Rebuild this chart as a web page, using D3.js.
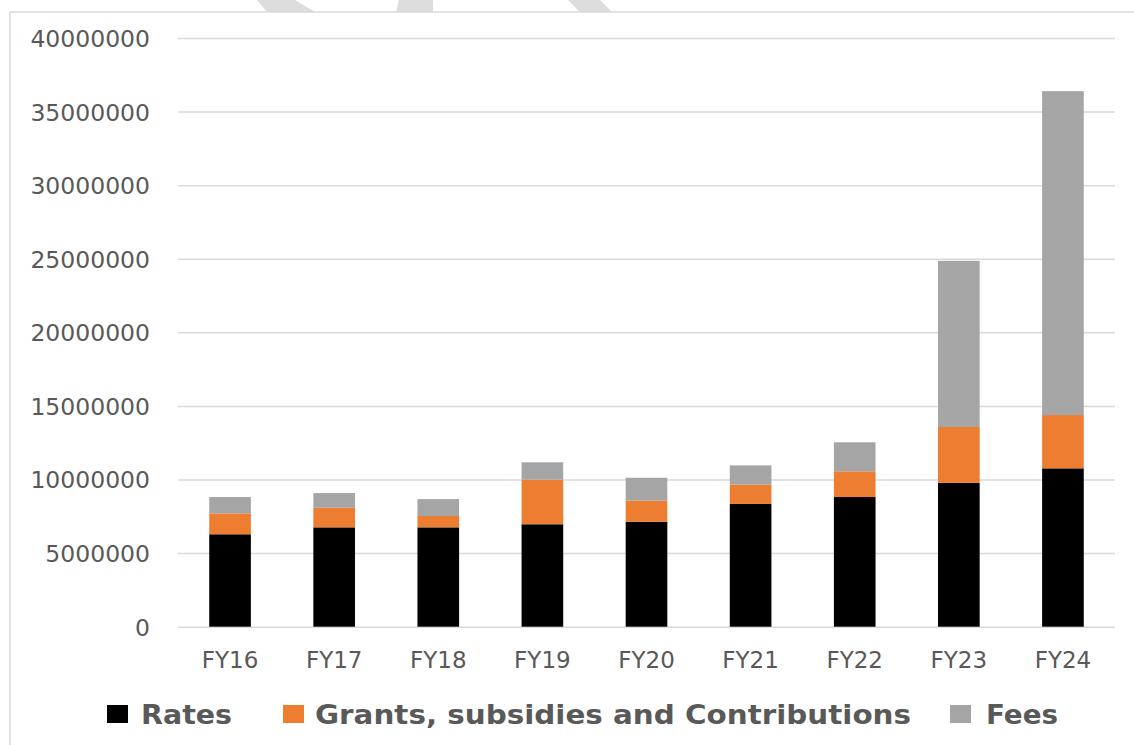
<!DOCTYPE html>
<html>
<head>
<meta charset="utf-8">
<script src="https://cdn.jsdelivr.net/npm/d3@7"></script>
<style>
  html, body { margin: 0; padding: 0; background: #ffffff; }
  svg { display: block; }
</style>
</head>
<body>
<svg id="chart" width="1134" height="745"></svg>
<script>
const categories = ["FY16", "FY17", "FY18", "FY19", "FY20", "FY21", "FY22", "FY23", "FY24"];
const rates = [6280000, 6750000, 6750000, 6960000, 7130000, 8340000, 8810000, 9780000, 10760000];
const grants = [1420000, 1330000, 770000, 3030000, 1430000, 1310000, 1750000, 3790000, 3620000];
const fees = [1110000, 1000000, 1150000, 1180000, 1560000, 1310000, 1970000, 11290000, 22010000];
const seriesNames = ["Rates", "Grants, subsidies and Contributions", "Fees"];
const seriesColors = ["#000000", "#ED7D31", "#A5A5A5"];
const yTicks = [0, 5000000, 10000000, 15000000, 20000000, 25000000, 30000000, 35000000, 40000000];

const svg = d3.select("#chart");
const textColor = "#595959";
const gridColor = "#D9D9D9";

// watermark fragments above the chart frame
const wm = [
  [[257,0],[295,0],[315,12],[267,12]],
  [[399,0],[433,0],[433,12],[396,12]],
  [[568,0],[600,0],[612,12],[580,12]]
];
svg.selectAll("polygon.wm").data(wm).join("polygon")
  .attr("class", "wm")
  .attr("points", d => d.map(p => p.join(",")).join(" "))
  .attr("fill", "#DCDCDC");

// chart frame
svg.append("line").attr("x1", 10).attr("x2", 1134).attr("y1", 12).attr("y2", 12)
  .attr("stroke", gridColor).attr("stroke-width", 1.5);
svg.append("line").attr("x1", 10).attr("x2", 10).attr("y1", 12).attr("y2", 745)
  .attr("stroke", gridColor).attr("stroke-width", 1.5);

const x = d3.scaleBand().domain(categories).range([178, 1115]).paddingInner(0.6).paddingOuter(0.3);
const y = d3.scaleLinear().domain([0, 40000000]).range([626.7, 38]);

// gridlines
const grid = svg.append("g").attr("class", "grid")
  .call(d3.axisLeft(y).tickValues(yTicks).tickSize(-(1115 - 178)).tickFormat(""))
  .attr("transform", "translate(178,0)");
grid.select(".domain").remove();
grid.selectAll("line").attr("stroke", gridColor).attr("stroke-width", 1.5);

// y labels
const yAxis = svg.append("g").attr("transform", "translate(150,0)")
  .call(d3.axisLeft(y).tickValues(yTicks).tickSize(0).tickPadding(0).tickFormat(d3.format("d")));
yAxis.select(".domain").remove();
yAxis.selectAll("text")
  .attr("font-family", "DejaVu Sans")
  .attr("font-size", "23.5px")
  .attr("fill", textColor)
  .attr("text-anchor", "end")
  .attr("dy", "0.36em");

// stacked data
const rows = categories.map((c, i) => ({ cat: c, s0: rates[i], s1: grants[i], s2: fees[i] }));
const stack = d3.stack().keys(["s0", "s1", "s2"]);
const stacked = stack(rows);

svg.append("g").selectAll("g").data(stacked).join("g")
  .attr("fill", (d, i) => seriesColors[i])
  .selectAll("rect").data(d => d).join("rect")
  .attr("x", d => x(d.data.cat))
  .attr("width", x.bandwidth())
  .attr("y", d => y(d[1]))
  .attr("height", d => y(d[0]) - y(d[1]));

// x labels
const xAxis = svg.append("g").attr("transform", "translate(0,626.7)")
  .call(d3.axisBottom(x).tickSize(0).tickPadding(0));
xAxis.select(".domain").remove();
xAxis.selectAll("text")
  .attr("font-family", "DejaVu Sans")
  .attr("font-size", "23px")
  .attr("fill", textColor)
  .attr("dy", "0")
  .attr("y", 41.6);

// legend
const legendItems = [
  { sx: 107, tx: 141, tw: 91 },
  { sx: 283, tx: 315, tw: 596 },
  { sx: 950, tx: 986, tw: 72 }
];
const lg = svg.append("g").attr("class", "legend");
lg.selectAll("rect").data(seriesNames).join("rect")
  .attr("x", (d, i) => legendItems[i].sx)
  .attr("y", 705)
  .attr("width", 21)
  .attr("height", 18)
  .attr("fill", (d, i) => seriesColors[i]);
lg.selectAll("text").data(seriesNames).join("text")
  .attr("x", (d, i) => legendItems[i].tx)
  .attr("y", 724)
  .attr("font-family", "DejaVu Sans")
  .attr("font-weight", "bold")
  .attr("font-size", "27px")
  .attr("fill", textColor)
  .attr("textLength", (d, i) => legendItems[i].tw)
  .attr("lengthAdjust", "spacingAndGlyphs")
  .text(d => d);
</script>
</body>
</html>
